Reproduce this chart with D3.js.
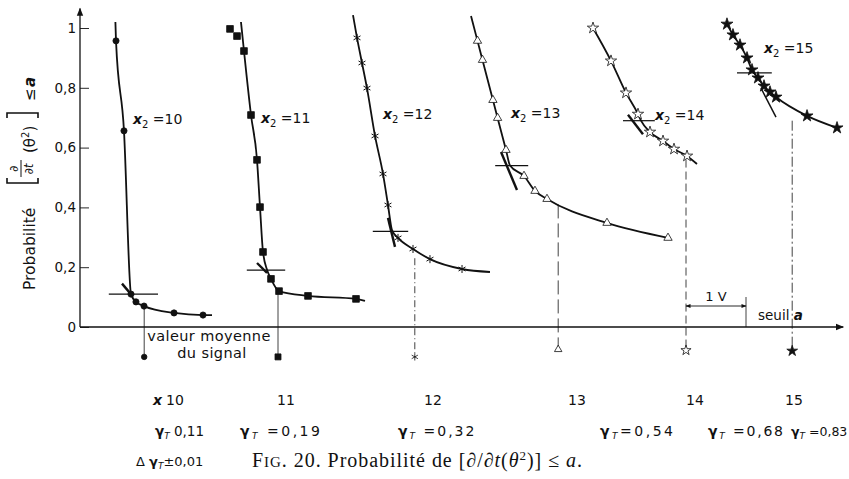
<!DOCTYPE html>
<html>
<head>
<meta charset="utf-8">
<script src="https://cdn.jsdelivr.net/npm/d3@7"></script>
<style>
body { margin: 0; background: #fff; }
text { font-family: "DejaVu Sans", sans-serif; fill: #111; }
</style>
</head>
<body>
<script>
// values: a = threshold (V), P = probability
const x2Values = [10, 11, 12, 13, 14, 15];
const gammaText = [" 0,11", " =0,19", " =0,32", "=0,54", " =0,68", " =0,83"];
const crossP = [0.11, 0.19, 0.32, 0.54, 0.69, 0.85];
const crossFrom = [0.48, 2.78, 4.88, 6.92, 9.05, 10.95];
const crossTo = [1.30, 3.42, 5.47, 7.47, 9.58, 11.53];
const meanA = [1.07, 3.30, 5.58, 7.97, 10.10, 11.87];
const meanTopP = [0.07, 0.12, 0.23, 0.41, 0.56, 0.69];
const meanMarkP = [-0.10, -0.10, -0.10, -0.075, -0.078, -0.08];
const yTicks = [0, 0.2, 0.4, 0.6, 0.8, 1];

const pts10 = [[0.60,0.957],[0.733,0.656],[0.85,0.11],[0.933,0.084],[1.067,0.070],[1.567,0.047],[2.05,0.040]];
const pts11 = [[2.50,0.997],[2.617,0.973],[2.733,0.923],[2.85,0.709],[2.95,0.559],[3.0,0.401],[3.05,0.251],[3.183,0.161],[3.317,0.120],[3.80,0.104],[4.60,0.094]];
const pts12 = [[4.617,0.967],[4.70,0.883],[4.783,0.799],[4.917,0.639],[5.05,0.512],[5.133,0.408],[5.30,0.298],[5.55,0.261],[5.833,0.227],[6.367,0.194]];
const pts13 = [[6.625,0.957],[6.708,0.893],[6.882,0.759],[6.96,0.699],[7.10,0.592],[7.40,0.505],[7.583,0.455],[7.783,0.428],[8.783,0.348],[9.80,0.298]];
const pts14 = [[8.55,1.0],[8.85,0.890],[9.10,0.783],[9.30,0.712],[9.50,0.652],[9.717,0.622],[9.90,0.595],[10.117,0.572]];
const pts15 = [[10.783,1.013],[10.883,0.977],[11.0,0.943],[11.117,0.90],[11.2,0.86],[11.3,0.833],[11.4,0.806],[11.5,0.786],[11.6,0.769],[12.117,0.706],[12.617,0.666]];

const path10 = [[0.59,1.02],[0.60,0.957],[0.733,0.656],[0.85,0.11],[0.933,0.084],[1.067,0.070],[1.567,0.047],[2.05,0.040],[2.20,0.040]];
const path11 = [[2.683,1.02],[2.733,0.923],[2.85,0.709],[2.95,0.559],[3.0,0.401],[3.05,0.251],[3.12,0.19],[3.183,0.161],[3.317,0.120],[3.80,0.104],[4.60,0.094],[4.75,0.087]];
const path12 = [[4.55,1.043],[4.617,0.967],[4.70,0.883],[4.783,0.799],[4.917,0.639],[5.05,0.512],[5.133,0.408],[5.20,0.324],[5.30,0.298],[5.55,0.261],[5.833,0.227],[6.367,0.194],[6.833,0.184]];
const path13 = [[6.517,1.04],[6.625,0.957],[6.708,0.893],[6.882,0.759],[6.96,0.699],[7.10,0.592],[7.167,0.54],[7.40,0.505],[7.583,0.455],[7.783,0.428],[8.783,0.348],[9.80,0.298]];
const path14 = [[8.55,1.0],[8.85,0.890],[9.10,0.783],[9.30,0.712],[9.35,0.69],[9.50,0.652],[9.717,0.622],[9.90,0.595],[10.117,0.572],[10.283,0.545]];
const path15 = pts15;

const tangents = [
  [[0.70,0.145],[0.87,0.105]],
  [[2.95,0.214],[3.117,0.181]],
  [[5.133,0.365],[5.25,0.268]],
  [[7.017,0.585],[7.283,0.458]],
  [[9.133,0.71],[9.383,0.645]],
  [[11.35,0.799],[11.6,0.702]]
];

const curvePts = [pts10, pts11, pts12, pts13, pts14, pts15];
const curvePaths = [path10, path11, path12, path13, path14, path15];

const W = 849, H = 479;
const svg = d3.select("body").append("svg")
  .attr("width", W).attr("height", H);

const x = d3.scaleLinear().domain([0, 12.7]).range([80, 842]);
const y = d3.scaleLinear().domain([0, 1]).range([327, 28]);

const defs = svg.append("defs");
defs.append("marker").attr("id", "arr")
  .attr("viewBox", "0 0 10 10").attr("refX", 9).attr("refY", 5)
  .attr("markerWidth", 12).attr("markerHeight", 8).attr("markerUnits", "userSpaceOnUse")
  .attr("orient", "auto")
  .append("path").attr("d", "M0,1 L10,5 L0,9 Z").attr("fill", "#111");
defs.append("marker").attr("id", "arrs")
  .attr("viewBox", "0 0 10 10").attr("refX", 9).attr("refY", 5)
  .attr("markerWidth", 8).attr("markerHeight", 5).attr("markerUnits", "userSpaceOnUse")
  .attr("orient", "auto-start-reverse")
  .append("path").attr("d", "M0,1 L10,5 L0,9 Z").attr("fill", "#111");

// axes
svg.append("line")
  .attr("x1", x(0)).attr("y1", y(0)).attr("x2", x(0)).attr("y2", y(1.065))
  .attr("stroke", "#111").attr("stroke-width", 1.3).attr("marker-end", "url(#arr)");
svg.append("line")
  .attr("x1", x(0)).attr("y1", y(0)).attr("x2", x(12.72)).attr("y2", y(0))
  .attr("stroke", "#111").attr("stroke-width", 1.3).attr("marker-end", "url(#arr)");

const yAxis = d3.axisLeft(y).tickValues(yTicks).tickSize(-9).tickPadding(4)
  .tickFormat(d => d === 0 || d === 1 ? String(d) : d3.format(".1f")(d).replace(".", ","));
const ya = svg.append("g").attr("transform", `translate(${x(0)},0)`).call(yAxis);
ya.select(".domain").remove();
ya.selectAll("line").attr("stroke", "#111").attr("stroke-width", 0.9);
ya.selectAll("text").style("font-size", "13.5px").attr("fill", "#111");

// y title, rotated
const gt = svg.append("g").attr("transform", "translate(35,290) rotate(-90)");
gt.append("text").attr("x", 0).attr("y", 0).style("font-size", "15.5px").text("Probabilité");
const br = (x0, dir) => `M${x0 + dir * 5},-28 L${x0},-28 L${x0},3 L${x0 + dir * 5},3`;
gt.append("path").attr("d", br(107, 1)).attr("fill", "none").attr("stroke", "#111").attr("stroke-width", 1.6);
gt.append("path").attr("d", br(177, -1)).attr("fill", "none").attr("stroke", "#111").attr("stroke-width", 1.6);
gt.append("text").attr("x", 121).attr("y", -17).attr("text-anchor", "middle").style("font-size", "12px").text("∂");
gt.append("line").attr("x1", 113).attr("x2", 130).attr("y1", -14).attr("y2", -14).attr("stroke", "#111").attr("stroke-width", 1);
const den = gt.append("text").attr("x", 121).attr("y", -2).attr("text-anchor", "middle").style("font-size", "12px");
den.append("tspan").text("∂");
den.append("tspan").style("font-style", "italic").text("t");
const th = gt.append("text").attr("x", 137).attr("y", 0).style("font-size", "15px");
th.append("tspan").text("(θ");
th.append("tspan").attr("dy", -6).style("font-size", "10px").text("2");
th.append("tspan").attr("dy", 6).text(")");
gt.append("text").attr("x", 189).attr("y", 0).style("font-size", "15px").text("≤");
gt.append("text").attr("x", 203).attr("y", 0).style("font-size", "15px")
  .style("font-style", "italic").style("font-weight", "bold").text("a");

const line = d3.line().x(d => x(d[0])).y(d => y(d[1])).curve(d3.curveMonotoneX);

const shapes = [d3.symbolCircle, d3.symbolSquare, d3.symbolAsterisk, d3.symbolTriangle, d3.symbolStar, d3.symbolStar];
const fills = ["#111", "#111", "none", "#fff", "#fff", "#111"];
const sizes = [30, 45, 45, 30, 40, 45];
const meanDash = [null, null, "7,3,1,3", "14,5", "8,4", "10,3,2,3"];
const labelAt = [[0.883, 0.679], [3.017, 0.682], [5.05, 0.696], [7.183, 0.699], [9.583, 0.692], [11.4, 0.916]];

x2Values.forEach(function(v, i) {
  const g = svg.append("g");
  // valeur moyenne line
  g.append("line")
    .attr("x1", x(meanA[i])).attr("x2", x(meanA[i]))
    .attr("y1", y(meanTopP[i])).attr("y2", y(meanMarkP[i]))
    .attr("stroke", "#111").attr("stroke-width", 0.8)
    .attr("stroke-dasharray", meanDash[i]);

  g.append("path").attr("d", line(curvePaths[i]))
    .attr("fill", "none").attr("stroke", "#111").attr("stroke-width", 1.8);

  g.append("line")
    .attr("x1", x(crossFrom[i])).attr("x2", x(crossTo[i]))
    .attr("y1", y(crossP[i])).attr("y2", y(crossP[i]))
    .attr("stroke", "#111").attr("stroke-width", 1.2);
  g.append("line")
    .attr("x1", x(tangents[i][0][0])).attr("y1", y(tangents[i][0][1]))
    .attr("x2", x(tangents[i][1][0])).attr("y2", y(tangents[i][1][1]))
    .attr("stroke", "#111").attr("stroke-width", i === 5 ? 1.5 : 2.4);

  const sym = d3.symbol().type(shapes[i]).size(sizes[i]);
  g.selectAll("path.mk").data(curvePts[i]).enter().append("path")
    .attr("class", "mk")
    .attr("transform", d => `translate(${x(d[0])},${y(d[1])})`)
    .attr("d", sym)
    .attr("fill", fills[i]).attr("stroke", "#111")
    .attr("stroke-width", i === 2 ? 1 : 0.8);
  g.append("path")
    .attr("transform", `translate(${x(meanA[i])},${y(meanMarkP[i])})`)
    .attr("d", d3.symbol().type(shapes[i]).size(sizes[i] * 0.8))
    .attr("fill", fills[i]).attr("stroke", "#111").attr("stroke-width", 0.8);

  const t = g.append("text")
    .attr("x", x(labelAt[i][0])).attr("y", y(labelAt[i][1]))
    .style("font-size", "14px");
  t.append("tspan").style("font-style", "italic").style("font-weight", "bold").text("x");
  t.append("tspan").attr("dy", 4).style("font-size", "10px").text("2");
  t.append("tspan").attr("dy", -4).text(" =" + v);
});

// valeur moyenne du signal
svg.append("text").attr("x", 209).attr("y", 341).attr("text-anchor", "middle")
  .style("font-size", "14.5px").style("letter-spacing", "0.4px").text("valeur moyenne");
svg.append("text").attr("x", 212).attr("y", 358).attr("text-anchor", "middle")
  .style("font-size", "14.5px").style("letter-spacing", "0.4px").text("du signal");

// 1 V scale bar and seuil label
svg.append("line").attr("x1", x(11.1)).attr("x2", x(11.1)).attr("y1", 297).attr("y2", y(0))
  .attr("stroke", "#111").attr("stroke-width", 0.8);
svg.append("line").attr("x1", x(meanA[4])).attr("x2", x(11.1)).attr("y1", 306).attr("y2", 306)
  .attr("stroke", "#111").attr("stroke-width", 0.9)
  .attr("marker-start", "url(#arrs)").attr("marker-end", "url(#arrs)");
svg.append("text").attr("x", x((meanA[4] + 11.1) / 2)).attr("y", 301).attr("text-anchor", "middle")
  .style("font-size", "13px").text("1 V");
const se = svg.append("text").attr("x", 758).attr("y", 320).style("font-size", "13.5px");
se.append("tspan").text("seuil  ");
se.append("tspan").style("font-style", "italic").style("font-weight", "bold").text("a");

// bottom table
const colX = [175, 286, 433, 577, 695, 794];
const gamX = [155, 240, 398, 600, 708, 791];
const gamSpacing = [0, 2.5, 2, 2.5, 1.8, 0];
const gamSize = [13.5, 14, 14, 14, 14, 12.5];
svg.append("text").attr("x", 153).attr("y", 405).style("font-size", "14px")
  .style("font-style", "italic").style("font-weight", "bold").text("x");
x2Values.forEach(function(v, i) {
  svg.append("text").attr("x", colX[i]).attr("y", 405).attr("text-anchor", "middle")
    .style("font-size", "14px").text(v);
  const g = svg.append("text").attr("x", gamX[i]).attr("y", 436)
    .style("font-size", gamSize[i] + "px").style("letter-spacing", gamSpacing[i] + "px");
  g.append("tspan").style("font-weight", "bold").text("γ");
  g.append("tspan").attr("dy", 3).style("font-size", "9px").style("font-style", "italic").text("T");
  g.append("tspan").attr("dy", -3).text(gammaText[i]);
});
const dg = svg.append("text").attr("x", 136).attr("y", 466).style("font-size", "13px");
dg.append("tspan").text("Δ ");
dg.append("tspan").style("font-weight", "bold").text("γ");
dg.append("tspan").attr("dy", 3).style("font-size", "9px").style("font-style", "italic").text("T");
dg.append("tspan").attr("dy", -3).text("±0,01");

// caption
const cap = svg.append("text").attr("x", 252).attr("y", 467)
  .style("font-family", "'Liberation Serif', serif").style("font-size", "20px")
  .attr("textLength", 330).attr("lengthAdjust", "spacing");
cap.append("tspan").text("F");
cap.append("tspan").style("font-size", "15px").text("IG");
cap.append("tspan").text(". 20. Probabilité de [∂/∂");
cap.append("tspan").style("font-style", "italic").text("t");
cap.append("tspan").text("(");
cap.append("tspan").style("font-style", "italic").text("θ");
cap.append("tspan").attr("dy", -7).style("font-size", "13px").text("2");
cap.append("tspan").attr("dy", 7).text(")] ≤ ");
cap.append("tspan").style("font-style", "italic").text("a");
cap.append("tspan").text(".");
</script>
</body>
</html>
